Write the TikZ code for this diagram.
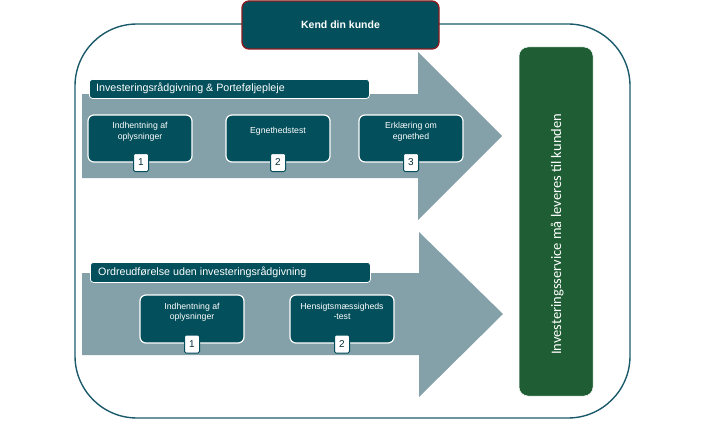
\documentclass[tikz,border=0pt]{standalone}
\usepackage{fontspec}
\setmainfont{Liberation Sans}
\newfontfamily\greenfont{Carlito}
\definecolor{tealdark}{HTML}{034F5B}
\definecolor{arrowgray}{HTML}{84A1A9}
\definecolor{framecol}{HTML}{1A5A6A}
\definecolor{redborder}{HTML}{8E1B1E}
\definecolor{greenbox}{HTML}{1F5E35}
\begin{document}
\begin{tikzpicture}[x=1pt,y=-1pt,
  stepbox/.style={draw=white,line width=1.2pt,fill=tealdark,rounded corners=6pt,
    text=white,align=center,font=\fontsize{8.7}{10.5}\selectfont,inner sep=0pt},
  badge/.style={draw=tealdark,line width=1pt,fill=white,rounded corners=1.5pt,
    minimum width=15pt,minimum height=18pt,inner sep=0pt,font=\fontsize{10}{10}\selectfont,text=tealdark!60!black},
  labelbar/.style={draw=white,line width=0.8pt,fill=tealdark,rounded corners=3pt,
    anchor=north west,inner sep=0pt},
  bartext/.style={anchor=west,text=white,font=\fontsize{10.7}{12}\selectfont,inner sep=0pt},
  bigarrow/.style={fill=arrowgray}]
\useasboundingbox (0,0) rectangle (706,420);
% outer frame
\draw[framecol,line width=1.4pt,rounded corners=62pt] (75,24) rectangle (630,418);
% arrows
\fill[bigarrow] (82,94) -- (418,94) -- (418,52) -- (502,136) -- (418,220) -- (418,178) -- (82,178) -- cycle;
\fill[bigarrow] (82,273) -- (419,273) -- (419,232) -- (503,314) -- (419,397) -- (419,355) -- (82,355) -- cycle;
% title
\node[draw=redborder,line width=1.3pt,fill=tealdark,rounded corners=7pt,minimum width=197pt,minimum height=48pt,
  text=white,font=\bfseries\fontsize{10.5}{12}\selectfont] (title) at (340.5,25) {Kend din kunde};
% label bars
\node[labelbar,minimum width=280pt,minimum height=19pt] (bar1) at (89,79) {};
\node[bartext] (bar1t) at (96,88.5) {Investeringsrådgivning \& Porteføljepleje};
\node[labelbar,minimum width=280pt,minimum height=20pt] (bar2) at (90,262) {};
\node[bartext] (bar2t) at (98,272) {Ordreudførelse uden investeringsrådgivning};
% row 1
\node[stepbox,minimum width=104pt,minimum height=47pt] (a1) at (140,138.5) {Indhentning af\\oplysninger\\[5pt]};
\node[stepbox,minimum width=104pt,minimum height=47pt] (a2) at (278,138.5) {Egnethedstest\\[5pt]};
\node[stepbox,minimum width=104pt,minimum height=47pt] (a3) at (411,138.5) {Erklæring om\\egnethed\\[5pt]};
\node[badge] (n1) at (141,162.5) {1};
\node[badge] (n2) at (278,162.5) {2};
\node[badge] (n3) at (411,162.5) {3};
% row 2
\node[stepbox,minimum width=104pt,minimum height=48pt] (b1) at (192,319) {Indhentning af\\oplysninger\\[5pt]};
\node[stepbox,minimum width=104pt,minimum height=48pt] (b2) at (342,319) {Hensigtsmæssigheds\\-test\\[5pt]};
\node[badge] (m1) at (192,344) {1};
\node[badge] (m2) at (342,344) {2};
% green box
\node[fill=greenbox,draw=white,line width=0.5pt,rounded corners=9pt,minimum width=74pt,minimum height=349pt,inner sep=0pt] (green) at (556,221.5) {};
\node[rotate=90,anchor=base west,inner sep=0pt,text=white,font=\greenfont\fontsize{14.5}{16}\selectfont] (greent) at (561,355) {Investeringsservice må leveres til kunden};
\end{tikzpicture}
\end{document}
